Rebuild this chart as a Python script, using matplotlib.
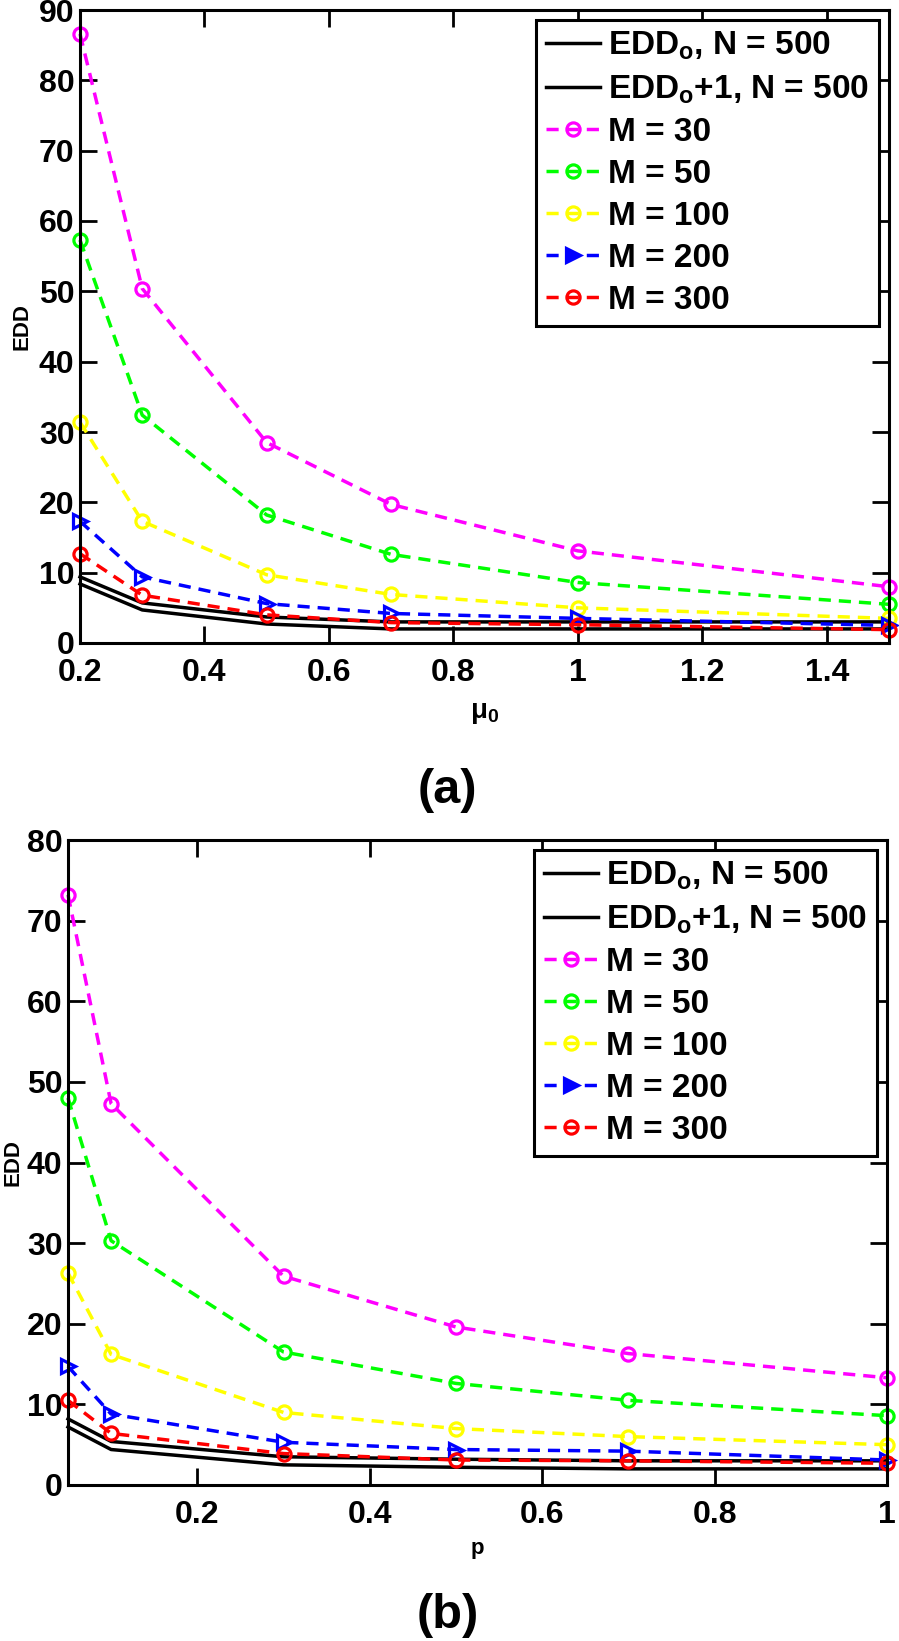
import matplotlib
matplotlib.use("Agg")
import matplotlib.pyplot as plt

plt.rcParams['font.family'] = ['Liberation Sans', 'DejaVu Sans']
plt.rcParams['font.weight'] = 'bold'
plt.rcParams['mathtext.fontset'] = 'custom'
plt.rcParams['mathtext.rm'] = 'Liberation Sans:bold'
plt.rcParams['mathtext.bf'] = 'Liberation Sans:bold'
plt.rcParams['mathtext.it'] = 'Liberation Sans:bold'
plt.rcParams['mathtext.default'] = 'bf'

# panel (a) : EDD vs mu0
mu0 = [0.2, 0.3, 0.5, 0.7, 1.0, 1.5]
a_edd_o = [8.4, 4.7, 2.7, 2.0, 2.0, 2.0]
a_edd_o1 = [9.4, 5.7, 3.7, 3.0, 3.0, 3.0]
a_m30 = [86.6, 50.4, 28.5, 19.7, 13.1, 8.0]
a_m50 = [57.3, 32.4, 18.2, 12.6, 8.6, 5.5]
a_m100 = [31.4, 17.3, 9.7, 6.9, 5.0, 3.5]
a_m200 = [17.3, 9.4, 5.6, 4.2, 3.5, 2.5]
a_m300 = [12.7, 6.8, 4.0, 2.9, 2.6, 1.9]

# panel (b) : EDD vs p
p = [0.05, 0.1, 0.3, 0.5, 0.7, 1.0]
b_edd_o = [7.2, 4.4, 2.5, 2.2, 2.0, 2.0]
b_edd_o1 = [8.2, 5.4, 3.5, 3.2, 3.0, 3.0]
b_m30 = [73.2, 47.3, 25.9, 19.6, 16.3, 13.3]
b_m50 = [48.0, 30.3, 16.5, 12.6, 10.5, 8.6]
b_m100 = [26.3, 16.2, 9.0, 7.0, 6.0, 5.0]
b_m200 = [14.7, 8.8, 5.3, 4.4, 4.2, 3.1]
b_m300 = [10.5, 6.4, 3.9, 3.1, 3.0, 2.7]

labels = [r'EDD$_\mathbf{o}$, N = 500', r'EDD$_\mathbf{o}$+1, N = 500',
          'M = 30', 'M = 50', 'M = 100', 'M = 200', 'M = 300']


def panel(ax, x, series, xlim, ylim, xticks, xticklabels, yticks,
          xlabel, xlab_size, xlab_y, ylab_x):
    colors = ['black', 'black', '#ff00ff', '#00ff00', '#ffff00', '#0000ff', '#ff0000']
    dash = (0, (3.5, 2.3))
    lines = []
    for i, (y, c) in enumerate(zip(series, colors)):
        if i < 2:
            l, = ax.plot(x, y, color=c, lw=2.5, clip_on=False)
        else:
            mk = '>' if i == 5 else 'o'
            l, = ax.plot(x, y, color=c, lw=2.5, linestyle=dash, marker=mk,
                         markersize=9.5, markeredgewidth=2.3,
                         markerfacecolor='none', clip_on=False)
        lines.append(l)

    ax.set_xlim(*xlim)
    ax.set_ylim(*ylim)
    ax.set_xticks(xticks)
    ax.set_xticklabels(xticklabels)
    ax.set_yticks(yticks)
    ax.tick_params(direction='in', length=12, width=2, labelsize=23,
                   top=True, right=True)
    ax.tick_params(axis='x', pad=11)
    ax.tick_params(axis='y', pad=4)
    for s in ax.spines.values():
        s.set_linewidth(2.2)

    ax.set_xlabel(xlabel, fontsize=xlab_size, fontweight='bold')
    ax.xaxis.set_label_coords(0.5, xlab_y)
    ax.xaxis.label.set_va('center')
    ax.set_ylabel('EDD', fontsize=16, fontweight='bold')
    ax.yaxis.set_label_coords(ylab_x, 0.5)
    ax.yaxis.label.set_va('center')

    leg = ax.legend(lines, labels, loc='upper right', fontsize=24,
                    handlelength=1.62, handletextpad=0.25, labelspacing=0.33,
                    borderpad=0.3, borderaxespad=0.3, fancybox=False,
                    framealpha=1, edgecolor='black')
    leg.get_frame().set_linewidth(2.2)
    leg.legend_handles[5].set_markerfacecolor('#0000ff')
    return ax


fig = plt.figure(figsize=(8.99, 16.41), dpi=100)
ax1 = fig.add_axes([80 / 899, 1 - 643 / 1641, 809 / 899, 633 / 1641])
ax2 = fig.add_axes([68 / 899, 1 - 1485 / 1641, 819 / 899, 645 / 1641])

panel(ax1, mu0, [a_edd_o, a_edd_o1, a_m30, a_m50, a_m100, a_m200, a_m300],
      (0.2, 1.5), (0, 90), [0.2, 0.4, 0.6, 0.8, 1.0, 1.2, 1.4],
      ['0.2', '0.4', '0.6', '0.8', '1', '1.2', '1.4'], range(0, 91, 10),
      r'$\mathrm{\mu}_\mathbf{0}$', 20, -0.11, -0.072)

panel(ax2, p, [b_edd_o, b_edd_o1, b_m30, b_m50, b_m100, b_m200, b_m300],
      (0.05, 1.0), (0, 80), [0.2, 0.4, 0.6, 0.8, 1.0],
      ['0.2', '0.4', '0.6', '0.8', '1'], range(0, 81, 10),
      'p', 16, -0.098, -0.067)

fig.text(447 / 899, 1 - 790 / 1641, '(a)', fontsize=35, fontweight='bold',
         ha='center', va='center')
fig.text(448 / 899, 1 - 1615 / 1641, '(b)', fontsize=35, fontweight='bold',
         ha='center', va='center')

fig.savefig('out.png', dpi=100)
